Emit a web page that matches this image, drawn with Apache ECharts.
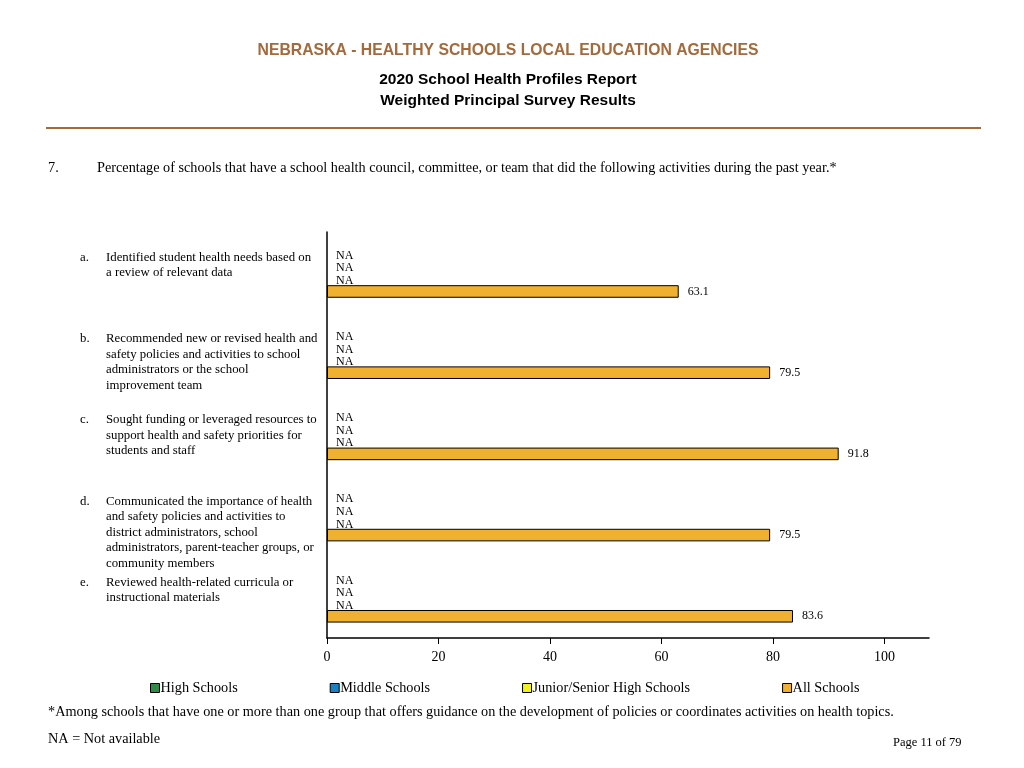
<!DOCTYPE html>
<html>
<head>
<meta charset="utf-8">
<script src="https://cdn.jsdelivr.net/npm/echarts@6/dist/echarts.min.js"></script>
<style>html,body{margin:0;padding:0;background:#fff;}#c{width:1024px;height:768px;}</style>
</head>
<body>
<div id="c"></div>
<script>
const categories = ['a.', 'b.', 'c.', 'd.', 'e.'];
const categoryText = [
  'Identified student health needs based on\na review of relevant data',
  'Recommended new or revised health and\nsafety policies and activities to school\nadministrators or the school\nimprovement team',
  'Sought funding or leveraged resources to\nsupport health and safety priorities for\nstudents and staff',
  'Communicated the importance of health\nand safety policies and activities to\ndistrict administrators, school\nadministrators, parent-teacher groups, or\ncommunity members',
  'Reviewed health-related curricula or\ninstructional materials'
];
const seriesNames = ['High Schools', 'Middle Schools', 'Junior/Senior High Schools', 'All Schools'];
const highSchools = [null, null, null, null, null];
const middleSchools = [null, null, null, null, null];
const juniorSeniorHighSchools = [null, null, null, null, null];
const allSchools = [63.1, 79.5, 91.8, 79.5, 83.6];
const xTicks = [0, 20, 40, 60, 80, 100];
const colors = ['#2E8B4A', '#1A80C4', '#F2F21C', '#F0B030'];

const SERIF = '"Liberation Serif", "Times New Roman", serif';
const SANS = '"Liberation Sans", Arial, sans-serif';

function toData(arr) {
  return arr.map(v => v === null
    ? { value: 0, itemStyle: { color: 'rgba(0,0,0,0)', borderWidth: 0 }, label: { formatter: 'NA', offset: [0, 2] } }
    : v);
}

const allData = [highSchools, middleSchools, juniorSeniorHighSchools, allSchools];
const series = allData.map((arr, i) => ({
  name: seriesNames[i],
  type: 'bar',
  data: toData(arr),
  barCategoryGap: '38%',
  barGap: '0%',
  itemStyle: { color: colors[i], borderColor: '#000', borderWidth: 1 },
  label: {
    show: true, position: 'right', distance: 9,
    fontFamily: SERIF, fontSize: 12, color: '#000',
    formatter: p => p.value.toFixed(1)
  },
  emphasis: { disabled: true }
}));

const chart = echarts.init(document.getElementById('c'));
const option = {
  animation: false,
  backgroundColor: '#fff',
  grid: { left: 327, top: 232, right: 95, bottom: 130, containLabel: false },
  xAxis: {
    type: 'value', min: 0, max: 108,
    axisLine: { show: true, lineStyle: { color: '#000', width: 1.5 } },
    axisTick: { show: true, length: 6, lineStyle: { color: '#000' }, customValues: xTicks },
    axisLabel: { fontFamily: SERIF, fontSize: 14, color: '#000', margin: 12, customValues: xTicks },
    splitLine: { show: false }
  },
  yAxis: {
    type: 'category', data: categories, inverse: true,
    axisLine: { show: true, lineStyle: { color: '#000', width: 1.5 } },
    axisTick: { show: false },
    axisLabel: { show: false }
  },
  legend: {
    left: 145, top: 676, itemGap: 92, itemWidth: 9, itemHeight: 9,
    icon: 'rect',
    itemStyle: { borderColor: '#000', borderWidth: 1 },
    textStyle: { fontFamily: SERIF, fontSize: 14.25, color: '#000', padding: [0, 0, 0, -4] },
    data: seriesNames,
    selectedMode: false
  },
  series: series
};
chart.setOption(option);

const graphics = [
  { type: 'text', x: 508, y: 51, style: { text: 'NEBRASKA - HEALTHY SCHOOLS LOCAL EDUCATION AGENCIES', font: 'bold 15.75px ' + SANS, fill: '#A46A3C', textAlign: 'center', textVerticalAlign: 'middle' } },
  { type: 'text', x: 508, y: 80, style: { text: '2020 School Health Profiles Report', font: 'bold 15.5px ' + SANS, fill: '#000', textAlign: 'center', textVerticalAlign: 'middle' } },
  { type: 'text', x: 508, y: 101, style: { text: 'Weighted Principal Survey Results', font: 'bold 15.5px ' + SANS, fill: '#000', textAlign: 'center', textVerticalAlign: 'middle' } },
  { type: 'line', shape: { x1: 46, y1: 128, x2: 981, y2: 128 }, style: { stroke: '#A46A3C', lineWidth: 2 } },
  { type: 'text', x: 48, y: 168, style: { text: '7.', font: '14.25px ' + SERIF, fill: '#000', textVerticalAlign: 'middle' } },
  { type: 'text', x: 97, y: 168, style: { text: 'Percentage of schools that have a school health council, committee, or team that did the following activities during the past year.*', font: '14.25px ' + SERIF, fill: '#000', textVerticalAlign: 'middle' } },
  { type: 'text', x: 48, y: 712, style: { text: '*Among schools that have one or more than one group that offers guidance on the development of policies or coordinates activities on health topics.', font: '14.25px ' + SERIF, fill: '#000', textVerticalAlign: 'middle' } },
  { type: 'text', x: 48, y: 739, style: { text: 'NA = Not available', font: '14.25px ' + SERIF, fill: '#000', textVerticalAlign: 'middle' } },
  { type: 'text', x: 893, y: 742.5, style: { text: 'Page 11 of 79', font: '12.5px ' + SERIF, fill: '#000', textVerticalAlign: 'middle' } }
];
categories.forEach((c, i) => {
  const y = chart.convertToPixel({ yAxisIndex: 0 }, c);
  const top = y - 15 - 7.75;
  graphics.push({ type: 'text', x: 80, y: top, style: { text: c, font: '12.8px ' + SERIF, fill: '#000', lineHeight: 15.5 } });
  graphics.push({ type: 'text', x: 106, y: top, style: { text: categoryText[i], font: '12.8px ' + SERIF, fill: '#000', lineHeight: 15.5 } });
});
chart.setOption({ graphic: graphics });
</script>
</body>
</html>
